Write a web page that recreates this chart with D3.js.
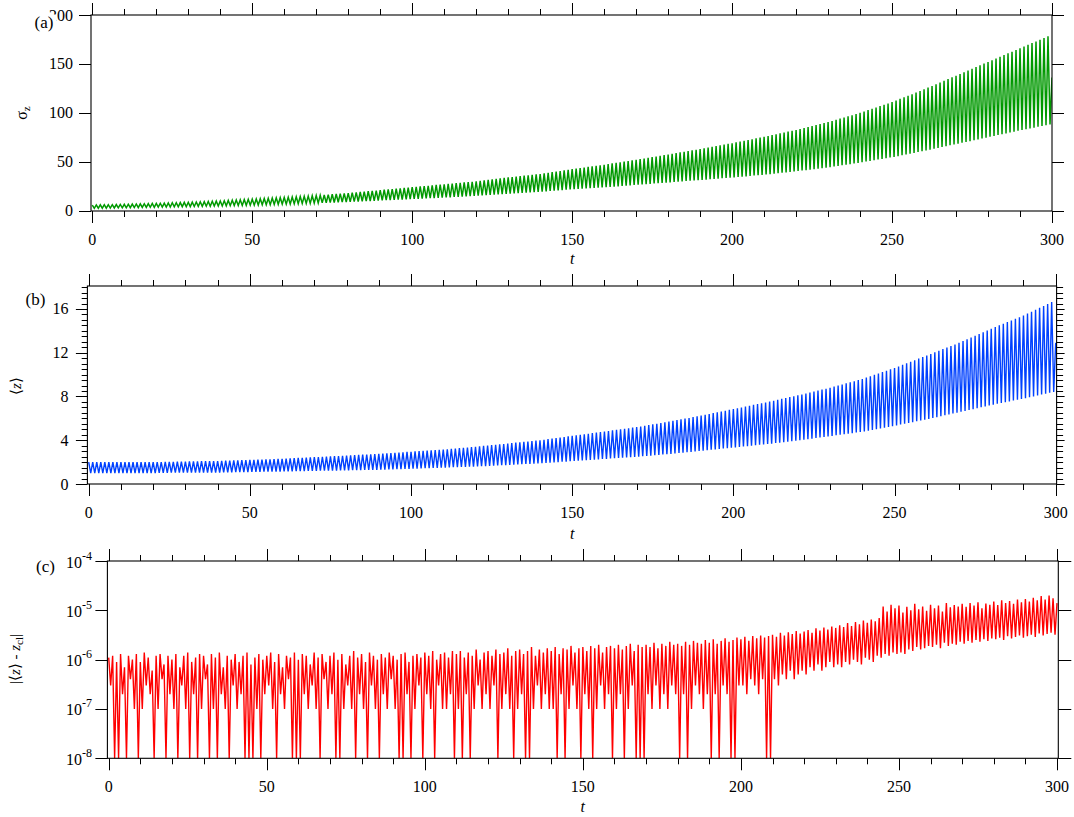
<!DOCTYPE html>
<html><head><meta charset="utf-8">
<script src="https://cdn.jsdelivr.net/npm/d3@7"></script>
<style>
body{margin:0;background:#fff}
svg{display:block}
text{font-family:"Liberation Serif","Times New Roman",serif;fill:#000}
</style>
</head><body>
<svg id="chart" width="1074" height="817"></svg>
<script>
// ---------------- DATA ----------------
// sampling: one peak and one trough per oscillation period (t units)
const period = 1.25;
const tTickLabels = [0, 50, 100, 150, 200, 250, 300];

// (a) sigma_z : per-cycle peak and trough values
const sigmaPeaks = [
5.8,5.9,6.0,6.1,6.1,6.2,6.3,6.4,
6.5,6.6,6.8,6.9,7.0,7.1,7.3,7.4,
7.5,7.6,7.8,7.9,8.1,8.2,8.3,8.5,
8.6,8.8,8.9,9.1,9.3,9.5,9.7,9.8,
10,10.2,10.5,10.7,10.9,11.1,11.4,11.6,
11.8,12.0,12.2,12.4,12.7,12.9,13.1,13.3,
13.5,13.8,14,14.3,14.5,14.8,15,15.3,
15.5,15.8,16.1,16.4,16.8,17.1,17.4,17.7,
18,18.4,18.8,19.1,19.5,19.9,20.3,20.6,
21,21.4,21.8,22.1,22.5,22.9,23.3,23.6,
24,24.4,24.8,25.1,25.5,25.9,26.3,26.6,
27,27.4,27.8,28.1,28.5,28.9,29.3,29.6,
30,30.5,31,31.5,32,32.5,33,33.5,
34,34.4,34.9,35.3,35.8,36.2,36.6,37.1,
37.5,38.1,38.8,39.4,40,40.6,41.3,41.9,
42.5,43.1,43.6,44.2,44.8,45.3,45.9,46.4,
47,47.6,48.3,48.9,49.5,50.1,50.8,51.4,
52,52.7,53.4,54.1,54.8,55.4,56.1,56.8,
57.5,58.2,58.9,59.6,60.3,60.9,61.6,62.3,
63,63.8,64.5,65.3,66,66.8,67.5,68.3,
69,69.8,70.6,71.4,72.3,73.1,73.9,74.7,
75.5,76.4,77.3,78.1,79,79.9,80.8,81.6,
82.5,83.5,84.5,85.5,86.5,87.5,88.5,89.5,
90.5,91.7,92.9,94.1,95.3,96.4,97.6,98.8,
100,101.4,102.8,104.1,105.5,106.9,108.3,109.6,
111,112.6,114.3,115.9,117.5,119.1,120.8,122.4,
124,125.8,127.5,129.3,131,132.8,134.5,136.3,
138,139.8,141.5,143.3,145,146.8,148.5,150.3,
152,153.8,155.5,157.3,159,160.8,162.5,164.3,
166,167.8,169.5,171.3,173,174.8,176.5,178.3];
const sigmaTroughs = [
2.4,2.5,2.6,2.6,2.7,2.8,2.9,2.9,
3.0,3.1,3.2,3.2,3.3,3.4,3.5,3.5,
3.6,3.7,3.8,3.8,3.9,4.0,4.1,4.1,
4.2,4.3,4.4,4.5,4.6,4.6,4.7,4.8,
4.9,5.0,5.1,5.2,5.3,5.4,5.5,5.6,
5.7,5.8,6.0,6.1,6.2,6.3,6.5,6.6,
6.7,6.8,7.0,7.1,7.3,7.4,7.5,7.7,
7.8,8.0,8.1,8.3,8.4,8.6,8.7,8.9,
9.0,9.2,9.4,9.6,9.8,9.9,10.1,10.3,
10.5,10.7,10.9,11.1,11.3,11.4,11.6,11.8,
12.0,12.2,12.4,12.6,12.8,12.9,13.1,13.3,
13.5,13.7,14.0,14.2,14.4,14.6,14.9,15.1,
15.3,15.6,15.8,16.1,16.3,16.6,16.8,17.1,
17.3,17.6,17.9,18.1,18.4,18.7,19.0,19.2,
19.5,19.8,20.1,20.4,20.8,21.1,21.4,21.7,
22.0,22.3,22.5,22.8,23.0,23.3,23.5,23.8,
24.0,24.3,24.6,24.9,25.3,25.6,25.9,26.2,
26.5,26.8,27.1,27.4,27.8,28.1,28.4,28.7,
29.0,29.3,29.6,29.9,30.3,30.6,30.9,31.2,
31.5,31.8,32.1,32.4,32.8,33.1,33.4,33.7,
34.0,34.4,34.8,35.1,35.5,35.9,36.3,36.6,
37.0,37.4,37.9,38.3,38.8,39.2,39.6,40.1,
40.5,41.0,41.5,42.0,42.5,43.0,43.5,44.0,
44.5,45.1,45.8,46.4,47.0,47.6,48.3,48.9,
49.5,50.2,50.9,51.6,52.3,52.9,53.6,54.3,
55.0,55.8,56.6,57.4,58.3,59.1,59.9,60.7,
61.5,62.4,63.3,64.1,65.0,65.9,66.8,67.6,
68.5,69.4,70.3,71.1,72.0,72.9,73.8,74.6,
75.5,76.4,77.3,78.1,79.0,79.9,80.8,81.6,
82.5,83.3,84.1,84.9,85.8,86.6,87.4,88.2];
const sigmaEnd = 136;   // value at t = 300
const sigmaTicks = [0, 50, 100, 150, 200];

// (b) <z> : per-cycle peak and trough values
const zPeaks = [
2.0,2.0,2.0,2.0,2.0,2.0,2.0,2.0,
2.0,2.0,2.0,2.0,2.0,2.0,2.0,2.0,
2.0,2.01,2.01,2.02,2.03,2.03,2.04,2.04,
2.05,2.06,2.06,2.07,2.08,2.08,2.09,2.09,
2.1,2.11,2.13,2.14,2.15,2.16,2.18,2.19,
2.2,2.21,2.23,2.24,2.25,2.26,2.28,2.29,
2.3,2.32,2.34,2.36,2.38,2.39,2.41,2.43,
2.45,2.47,2.49,2.51,2.53,2.54,2.56,2.58,
2.6,2.62,2.64,2.66,2.68,2.69,2.71,2.73,
2.75,2.78,2.8,2.83,2.85,2.88,2.9,2.93,
2.95,2.98,3.0,3.03,3.05,3.08,3.1,3.13,
3.15,3.18,3.21,3.24,3.28,3.31,3.34,3.37,
3.4,3.44,3.48,3.51,3.55,3.59,3.63,3.66,
3.7,3.74,3.78,3.81,3.85,3.89,3.93,3.96,
4.0,4.05,4.1,4.15,4.2,4.25,4.3,4.35,
4.4,4.45,4.5,4.55,4.6,4.65,4.7,4.75,
4.8,4.85,4.9,4.95,5.0,5.05,5.1,5.15,
5.2,5.26,5.33,5.39,5.45,5.51,5.58,5.64,
5.7,5.77,5.84,5.91,5.98,6.04,6.11,6.18,
6.25,6.33,6.4,6.48,6.55,6.63,6.7,6.78,
6.85,6.93,7.0,7.08,7.15,7.23,7.3,7.38,
7.45,7.53,7.61,7.69,7.78,7.86,7.94,8.02,
8.1,8.19,8.28,8.36,8.45,8.54,8.63,8.71,
8.8,8.9,9.0,9.1,9.2,9.3,9.4,9.5,
9.6,9.73,9.85,9.98,10.1,10.23,10.35,10.48,
10.6,10.74,10.89,11.03,11.18,11.32,11.46,11.61,
11.75,11.89,12.04,12.18,12.33,12.47,12.61,12.76,
12.9,13.06,13.23,13.39,13.55,13.71,13.88,14.04,
14.2,14.35,14.5,14.65,14.8,14.95,15.1,15.25,
15.4,15.58,15.75,15.93,16.1,16.28,16.45,16.63];
const zTroughs = [
1.0,1.0,1.0,1.0,1.0,1.0,1.0,1.0,
1.0,1.0,1.0,1.0,1.0,1.0,1.0,1.0,
1.0,1.01,1.01,1.02,1.03,1.03,1.04,1.04,
1.05,1.05,1.05,1.05,1.05,1.05,1.05,1.05,
1.05,1.06,1.06,1.07,1.08,1.08,1.09,1.09,
1.1,1.11,1.11,1.12,1.13,1.13,1.14,1.14,
1.15,1.16,1.16,1.17,1.18,1.18,1.19,1.19,
1.2,1.21,1.21,1.22,1.23,1.23,1.24,1.24,
1.25,1.26,1.26,1.27,1.28,1.28,1.29,1.29,
1.3,1.31,1.33,1.34,1.35,1.36,1.38,1.39,
1.4,1.41,1.43,1.44,1.45,1.46,1.48,1.49,
1.5,1.51,1.53,1.54,1.55,1.56,1.58,1.59,
1.6,1.62,1.64,1.66,1.68,1.69,1.71,1.73,
1.75,1.77,1.79,1.81,1.83,1.84,1.86,1.88,
1.9,1.93,1.95,1.98,2.0,2.03,2.05,2.08,
2.1,2.13,2.15,2.18,2.2,2.23,2.25,2.28,
2.3,2.33,2.35,2.38,2.4,2.43,2.45,2.48,
2.5,2.53,2.56,2.59,2.63,2.66,2.69,2.72,
2.75,2.79,2.83,2.86,2.9,2.94,2.98,3.01,
3.05,3.09,3.13,3.16,3.2,3.24,3.28,3.31,
3.35,3.39,3.43,3.46,3.5,3.54,3.58,3.61,
3.65,3.69,3.74,3.78,3.83,3.87,3.91,3.96,
4.0,4.05,4.1,4.15,4.2,4.25,4.3,4.35,
4.4,4.45,4.5,4.55,4.6,4.65,4.7,4.75,
4.8,4.87,4.94,5.01,5.08,5.14,5.21,5.28,
5.35,5.43,5.5,5.58,5.65,5.73,5.8,5.88,
5.95,6.03,6.11,6.19,6.28,6.36,6.44,6.52,
6.6,6.68,6.76,6.84,6.93,7.01,7.09,7.17,
7.25,7.33,7.4,7.48,7.55,7.63,7.7,7.78,
7.85,7.93,8.01,8.09,8.18,8.26,8.34,8.42];
const zEnd = 12.9;
const zTicks = [0, 4, 8, 12, 16];

// (c) |<z> - z_cl| : per-cycle peak and trough values, in units of 1e-7 (0 = below axis floor)
const dzUnit = 1e-7;
const dzPeaks = [
11,12,9,13,7,12,10,13,
9,14,11,6,12,13,8,12,
10,13,7,12,14,9,11,13,
12,8,13,11,14,7,12,10,
13,9,12,14,8,11,13,10,
12,14,9,13,7,12,11,14,
10,13,12,8,14,11,13,9,
12,14,10,13,8,12,15,11,
13,9,14,12,10,13,11,14,
12,10,13,14,9,12,13,11,
14,12,15,10,13,14,11,15,
13,15,11,14,12,16,10,14,
15,12,16,13,14,17,12,15,
16,13,15,18,12,16,14,17,
15,18,13,17,16,19,14,17,
18,15,19,17,20,14,18,19,
17,20,16,19,21,15,20,18,
20,18,22,17,21,19,23,20,
21,19,23,20,24,22,21,25,
22,26,21,24,27,23,25,28,
26,29,24,30,27,31,28,30,
32,29,35,31,36,33,38,34,
37,40,35,43,39,45,41,47,
44,50,46,55,48,58,52,62,
56,65,60,70,120,95,130,110,
125,90,118,100,135,105,120,98,
130,110,125,95,140,115,128,120,
135,118,140,125,145,110,138,130,
150,128,160,140,155,135,165,145,
170,150,180,160,195,165,200,175];
const dzTroughs = [
3,0,0,2,0,4,1,0,
1,3,2,0,1,4,0,2,
1,0,3,1,0,2,0,1,
4,0,1,0,2,1,0,3,
1,2,0,0,0,1,0,2,
3,1,0,2,1,4,0,0,
0,2,1,3,1,0,4,1,
2,0,0,1,3,1,0,2,
1,0,3,1,0,2,1,4,
1,0,0,2,0,1,3,0,
2,1,0,3,1,1,2,0,
1,0,2,0,1,3,1,2,
1,3,0,1,2,1,0,1,
2,0,0,1,3,1,2,1,
1,0,2,0,1,3,1,0,
2,1,0,1,3,1,2,0,
1,2,0,1,3,0,0,0,
2,1,3,1,2,1,3,2,
0,2,0,1,3,2,1,2,
0,2,0,3,2,0,0,3,
3,2,4,3,2,4,0,0,
4,3,5,4,6,4,5,6,
5,7,6,8,6,7,9,7,
8,7,9,8,10,9,8,11,
10,9,12,11,13,12,14,13,
14,13,16,15,18,16,17,19,
18,20,17,22,19,21,20,23,
21,24,22,25,23,26,24,27,
26,28,25,30,27,29,31,28,
30,32,29,34,31,33,35,32];
const dzEnd = 140;
const dzTicks = [1e-8, 1e-7, 1e-6, 1e-5, 1e-4];
const dzTickExp = [-8, -7, -6, -5, -4];

// ---------------- BUILD ----------------
function buildSeries(peaks, troughs, endVal, unit) {
  const out = [];
  peaks.forEach((p, k) => {
    out.push({t: k * period, v: p * unit});
    out.push({t: k * period + period / 2, v: troughs[k] * unit});
  });
  out.push({t: 300, v: endVal * unit});
  return out;
}

const svg = d3.select("#chart");

function drawPanel(cfg) {
  const g = svg.append("g");
  const x = d3.scaleLinear().domain([0, 300]).range(cfg.xr);
  const y = cfg.yscale;
  const L = cfg.box[0], R = cfg.box[1], T = cfg.box[2], B = cfg.box[3];
  const id = "clip" + cfg.name;
  svg.append("clipPath").attr("id", id).append("rect")
    .attr("x", L).attr("y", T - 1).attr("width", R - L).attr("height", B - T + 2);

  // data line
  const floor = cfg.floor;
  const line = d3.line()
    .x(d => x(d.t))
    .y(d => y(floor ? Math.max(d.v, floor) : d.v));
  g.append("path").datum(cfg.data)
    .attr("clip-path", `url(#${id})`)
    .attr("d", line).attr("fill", "none")
    .attr("stroke", cfg.color).attr("stroke-width", cfg.lw)
    .attr("stroke-linejoin", "miter");

  // frame
  g.append("rect").attr("x", L).attr("y", T).attr("width", R - L).attr("height", B - T)
    .attr("fill", "none").attr("stroke", "#000").attr("stroke-width", 1.1);

  // x ticks top & bottom
  const xt = d3.range(0, 301, 10);
  xt.forEach(v => {
    const major = v % 50 === 0;
    const len = major ? 12 : 6;
    const px = Math.round(x(v)) + 0.5;
    g.append("line").attr("x1", px).attr("x2", px).attr("y1", B).attr("y2", B + len)
      .attr("stroke", "#000").attr("stroke-width", 1);
    g.append("line").attr("x1", px).attr("x2", px).attr("y1", T).attr("y2", T - len)
      .attr("stroke", "#000").attr("stroke-width", 1);
  });
  tTickLabels.forEach(v => {
    g.append("text").attr("x", x(v)).attr("y", B + 34).attr("text-anchor", "middle")
      .attr("font-size", 16).text(v);
  });
  g.append("text").attr("x", x(150)).attr("y", cfg.tY).attr("text-anchor", "middle")
    .attr("font-size", 16).attr("font-style", "italic").text("t");

  // y ticks
  cfg.yMinor.forEach(v => {
    const py = Math.round(y(v)) + 0.5;
    g.append("line").attr("x1", L).attr("x2", L - cfg.minorLen).attr("y1", py).attr("y2", py).attr("stroke", "#000");
    g.append("line").attr("x1", R).attr("x2", R + cfg.minorLenR).attr("y1", py).attr("y2", py).attr("stroke", "#000");
  });
  cfg.yMajor.forEach((v, i) => {
    const py = Math.round(y(v)) + 0.5;
    g.append("line").attr("x1", L).attr("x2", L - cfg.majorLen).attr("y1", py).attr("y2", py).attr("stroke", "#000");
    g.append("line").attr("x1", R).attr("x2", R + cfg.majorLenR).attr("y1", py).attr("y2", py).attr("stroke", "#000");
    cfg.yLabel(g, v, i, y(v));
  });

  // panel tag
  if (cfg.tagBg) {
    g.append("rect").attr("x", cfg.tagBg[0]).attr("y", cfg.tagBg[1])
      .attr("width", cfg.tagBg[2]).attr("height", cfg.tagBg[3]).attr("fill", "#fff");
  }
  g.append("text").attr("x", cfg.tag[0]).attr("y", cfg.tag[1]).attr("font-size", 17).text(cfg.tagText);

  cfg.axisTitle(g);
}

// (a)
drawPanel({
  name: "a",
  xr: [92.3, 1052],
  box: [91, 1052, 15, 211],
  yscale: d3.scaleLinear().domain([0, 200]).range([210.7, 15]),
  data: buildSeries(sigmaPeaks, sigmaTroughs, sigmaEnd, 1),
  color: "#009900", lw: 1.5,
  yMajor: sigmaTicks, yMinor: [],
  majorLen: 12, minorLen: 6, majorLenR: 12, minorLenR: 6,
  yLabel: (g, v, i, py) => g.append("text").attr("x", 73).attr("y", py + 5.5)
      .attr("text-anchor", "end").attr("font-size", 16).text(v),
  tag: [34.5, 28], tagText: "(a)", tagBg: [34, 14.5, 22.5, 20],
  tY: 264,
  axisTitle: g => {
    const t = g.append("text").attr("transform", "translate(27,113) rotate(-90)")
      .attr("text-anchor", "middle").attr("font-size", 16);
    t.append("tspan").text("σ");
    t.append("tspan").attr("font-size", 11).attr("dy", 3).text("z");
  }
});

// (b)
drawPanel({
  name: "b",
  xr: [88.7, 1055.7],
  box: [87.4, 1056.6, 286, 484],
  yscale: d3.scaleLinear().domain([0, 18.1]).range([484, 286]),
  data: buildSeries(zPeaks, zTroughs, zEnd, 1),
  color: "#0041ff", lw: 1.4,
  yMajor: zTicks, yMinor: d3.range(0, 18.01, 0.5).filter(v => v % 4 !== 0),
  majorLen: 11.5, minorLen: 5.7, majorLenR: 8, minorLenR: 6.5,
  yLabel: (g, v, i, py) => g.append("text").attr("x", 68.5).attr("y", py + 5.5)
      .attr("text-anchor", "end").attr("font-size", 16).text(v),
  tag: [25.5, 305], tagText: "(b)",
  tY: 539,
  axisTitle: g => {
    const t = g.append("text").attr("transform", "translate(21,386) rotate(-90)")
      .attr("text-anchor", "middle").attr("font-size", 15);
    t.append("tspan").text("⟨");
    t.append("tspan").attr("font-style", "italic").text("z");
    t.append("tspan").text("⟩");
  }
});

// (c)
drawPanel({
  name: "c",
  xr: [108.7, 1057],
  box: [107.4, 1058.3, 561, 758.3],
  yscale: d3.scaleLog().domain([1e-8, 1e-4]).range([758.3, 561]),
  floor: 1e-8,
  data: buildSeries(dzPeaks, dzTroughs, dzEnd, dzUnit),
  color: "#ff0000", lw: 1.4,
  yMajor: dzTicks, yMinor: [],
  majorLen: 12, minorLen: 6, majorLenR: 13, minorLenR: 6,
  yLabel: (g, v, i, py) => {
    const t = g.append("text").attr("x", 92).attr("y", py + 6.5)
      .attr("text-anchor", "end").attr("font-size", 16);
    t.append("tspan").text("10");
    t.append("tspan").attr("font-size", 12).attr("dy", -8).text(String(dzTickExp[i]));
  },
  tag: [36, 572], tagText: "(c)",
  tY: 812,
  axisTitle: g => {
    const t = g.append("text").attr("transform", "translate(20,659) rotate(-90)")
      .attr("text-anchor", "middle").attr("font-size", 15);
    t.append("tspan").text("|⟨");
    t.append("tspan").attr("font-style", "italic").text("z");
    t.append("tspan").text("⟩ - ");
    t.append("tspan").attr("font-style", "italic").text("z");
    t.append("tspan").attr("font-size", 11).attr("dy", 3).text("cl");
    t.append("tspan").attr("dy", -3).text("|");
  }
});
</script>
</body></html>
